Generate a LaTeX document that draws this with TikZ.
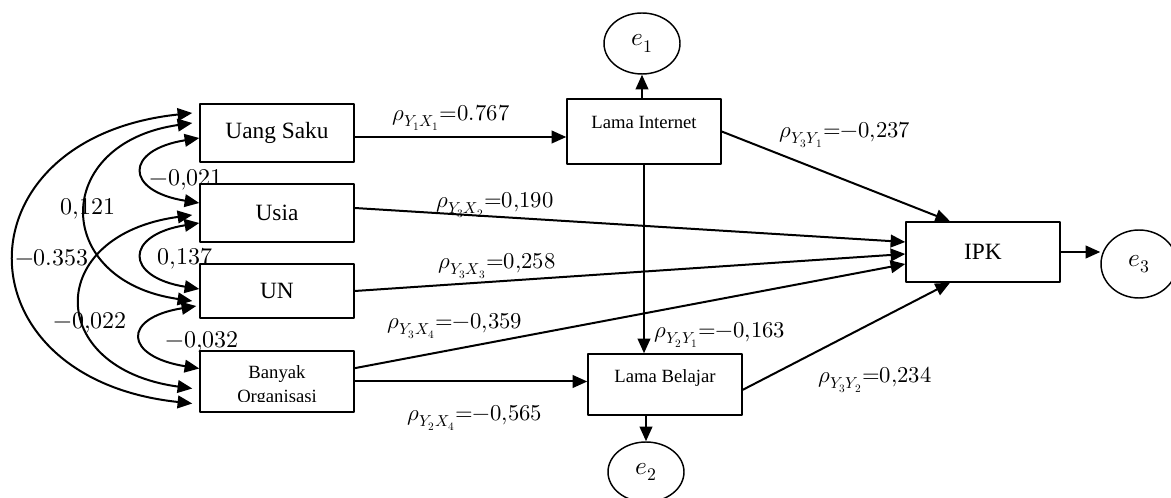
\documentclass[tikz,border=0pt]{standalone}
\usepackage{fontspec}
\usepackage{unicode-math}
\setmainfont{Liberation Serif}
\setmathfont{Latin Modern Math}
\usetikzlibrary{arrows.meta,shapes.geometric,calc}
\begin{document}
\begin{tikzpicture}[x=0.75pt,y=-0.75pt,line join=round,line cap=round,>={Triangle[length=11pt,width=9.5pt]},
		kotak/.style={draw,line width=1.1pt,minimum width=115.5pt,inner sep=0pt,font=\fontsize{17.5}{20}\selectfont},
		kecil/.style={kotak,font=\fontsize{14}{17}\selectfont},
		galat/.style={draw,ellipse,line width=1.1pt,minimum width=57pt,inner sep=0pt,font=\fontsize{19}{21}\selectfont},
		panah/.style={->,line width=1.5pt},
		kor/.style={<->,line width=1.5pt},
		nama/.style={inner sep=0pt,font=\fontsize{14}{16}\selectfont},
		koef/.style={inner sep=0pt,font=\fontsize{17}{19}\selectfont},
		korlbl/.style={inner sep=0pt,font=\fontsize{18}{20}\selectfont}]
	\useasboundingbox (0,0) rectangle (1171,498);
	% variabel eksogen
	\node[kotak,minimum height=43.5pt] (us) at (277,133) {Uang Saku};
	\node[kotak,minimum height=43.5pt] (usia) at (277,213) {Usia};
	\node[kotak,minimum height=40.5pt] (un) at (277,291) {UN};
	\node[kotak,minimum height=45.75pt] (bo) at (277,381.5) {};
	\begin{scope}
		\clip (bo.north west) rectangle ($(bo.south east)+(0,-11)$);
		\node[nama,anchor=base] (bo1) at (277,379) {Banyak};
		\node[nama,anchor=base] (bo2) at (277,403) {Organisasi};
	\end{scope}
	% variabel endogen
	\node[kecil,minimum height=48.75pt,text height=10pt,text depth=15pt] (li) at (644,131.5) {Lama Internet};
	\node[kecil,minimum height=45.75pt,text height=10pt,text depth=12.25pt] (lb) at (665,384.5) {Lama Belajar};
	\node[kotak,minimum height=45pt] (ipk) at (983,252) {IPK};
	\node[galat,minimum height=45.75pt] (e1) at (642,43.5) {$e_1$};
	\node[galat,minimum height=45pt] (e2) at (646,472) {$e_2$};
	\node[galat,minimum height=51pt] (e3) at (1139,264) {$e_3$};
	% korelasi
	\draw[kor] ($(us.west)+(-7,-20)$) .. controls +(-236,25) and +(-236,-25) .. ($(bo.west)+(-7,22)$);
	\draw[kor] ($(us.west)+(-7,-10)$) .. controls +(-141,20) and +(-141,-20) .. ($(un.west)+(-7,10)$);
	\draw[kor] ($(usia.west)+(-7,2)$) .. controls +(-148,20) and +(-148,-20) .. ($(bo.west)+(-7,7)$);
	\draw[kor] ($(us.west)+(0,5)$) .. controls +(-75,12) and +(-75,-12) .. ($(usia.west)+(0,-10)$);
	\draw[kor] ($(usia.west)+(0,10)$) .. controls +(-75,12) and +(-75,-12) .. ($(un.west)+(0,-2)$);
	\draw[kor] ($(un.west)+(-3,15)$) .. controls +(-75,12) and +(-75,-12) .. ($(bo.west)+(0,-13)$);
	\node[korlbl] (k1) at (186,180) {$-0{,}021$};
	\node[korlbl] (k2) at (88,209) {$0{,}121$};
	\node[korlbl] (k3) at (52,258) {$-0.353$};
	\node[korlbl] (k4) at (185,259) {$0{,}137$};
	\node[korlbl] (k5) at (90,323) {$-0{,}022$};
	\node[korlbl] (k6) at (202,342) {$-0{,}032$};
	% jalur
	\draw[panah] ([yshift=-3pt]us.east) -- ([yshift=-3pt]us.east -| li.west);
	\draw[panah] ([yshift=3.75pt]usia.east) -- ([yshift=7.5pt]ipk.west);
	\draw[panah] (un.east) -- ([yshift=-1.5pt]ipk.west);
	\draw[panah] ([yshift=10pt]bo.east) -- ([yshift=-9pt]ipk.west);
	\draw[panah] (bo.east) -- (bo.east -| lb.west);
	\draw[panah] (li.east) -- ([xshift=-24.75pt]ipk.north);
	\draw[panah] ([yshift=-4pt]lb.east) -- ([xshift=-24.75pt]ipk.south);
	\draw[panah] (li.south) -- (li.south |- lb.north);
	\draw[panah] (e1.south |- li.north) -- (e1.south);
	\draw[panah] (e2.north |- lb.south) -- (e2.north);
	\draw[panah] (ipk.east) -- (ipk.east -| e3.west);
	\node[koef] (p1) at (451,118) {$\rho_{Y_1X_1}{=}0.767$};
	\node[koef] (p2) at (495,205) {$\rho_{Y_3X_2}{=}0{,}190$};
	\node[koef] (p3) at (497,266) {$\rho_{Y_3X_3}{=}0{,}258$};
	\node[koef] (p4) at (455,326) {$\rho_{Y_3X_4}{=}{-}0{,}359$};
	\node[koef] (p5) at (720,335) {$\rho_{Y_2Y_1}{=}{-}0{,}163$};
	\node[koef] (p6) at (475,418) {$\rho_{Y_2X_4}{=}{-}0{,}565$};
	\node[koef] (p7) at (845,135) {$\rho_{Y_3Y_1}{=}{-}0{,}237$};
	\node[koef] (p8) at (875,380) {$\rho_{Y_3Y_2}{=}0{,}234$};
\end{tikzpicture}
\end{document}
